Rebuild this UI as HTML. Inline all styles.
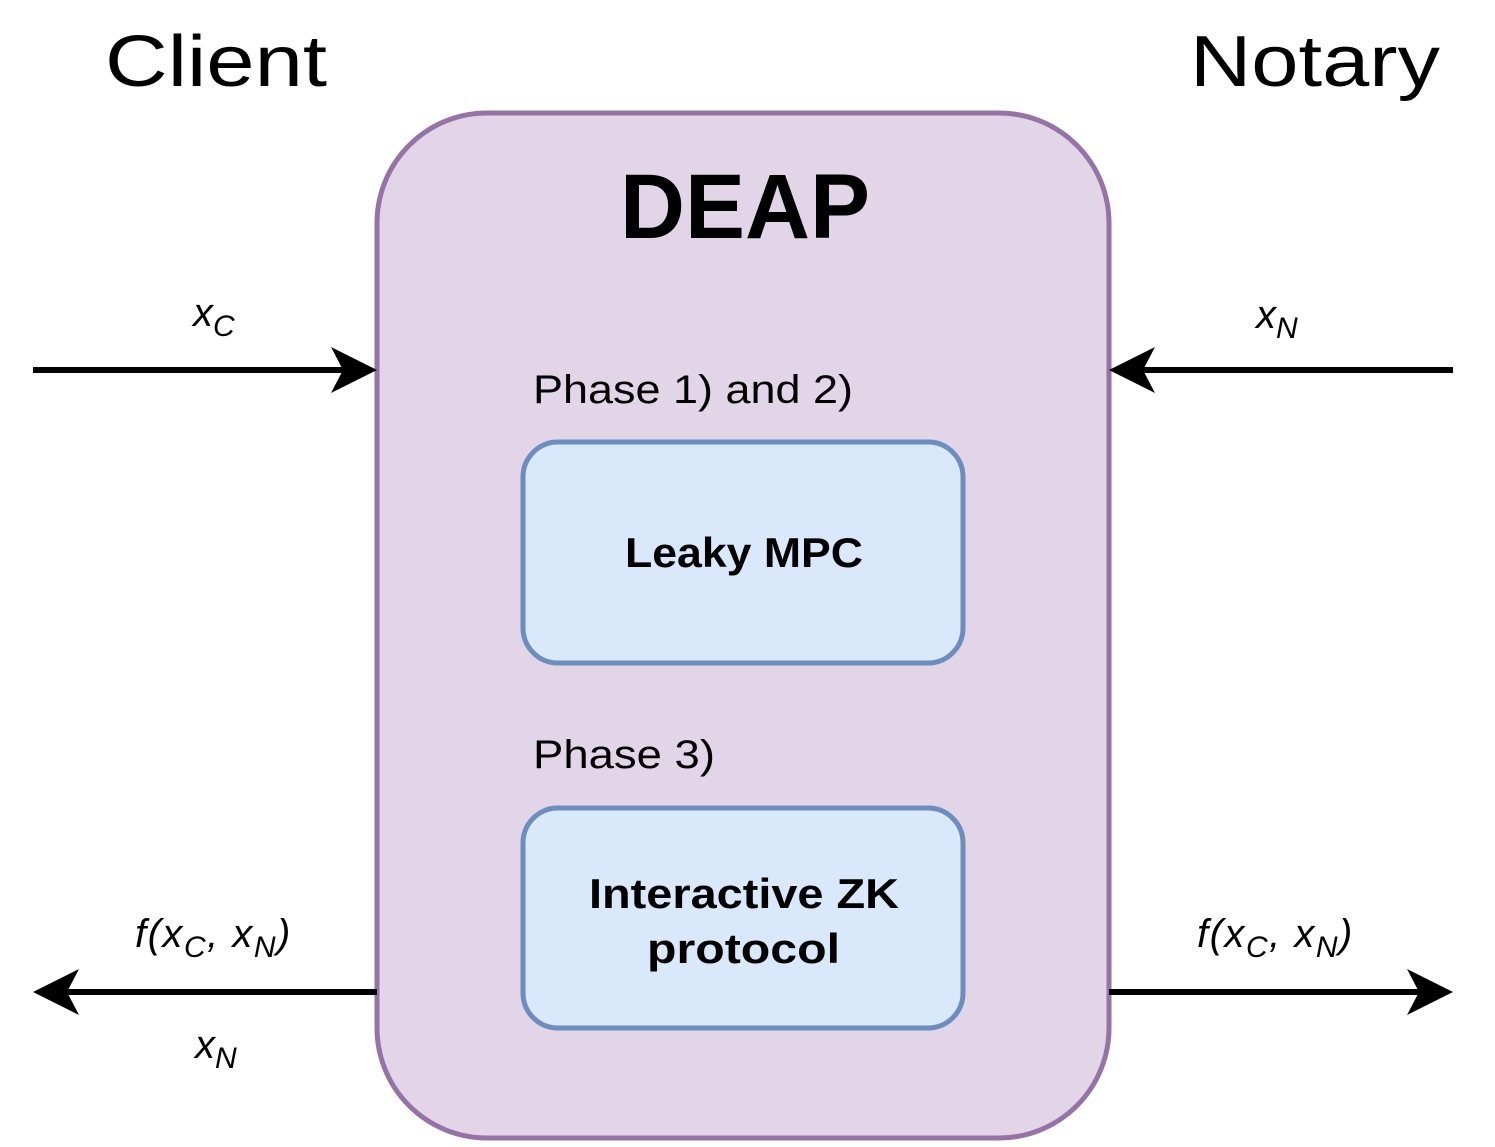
<!DOCTYPE html>
<html><head><meta charset="utf-8"><style>
html,body{margin:0;padding:0;background:#fff;}
svg{display:block;}
text{font-family:"Liberation Sans",sans-serif;fill:#000;}
</style></head><body>
<svg width="1495" height="1147" viewBox="0 0 1495 1147" xmlns="http://www.w3.org/2000/svg">
<rect x="377" y="113" width="732" height="1025" rx="110" ry="110" fill="#e1d5e7" stroke="#9673a6" stroke-width="5"/>
<rect x="523" y="442" width="440" height="221" rx="35" fill="#dae8fc" stroke="#6c8ebf" stroke-width="5"/>
<rect x="523" y="808" width="440" height="220" rx="35" fill="#dae8fc" stroke="#6c8ebf" stroke-width="5"/>
<g stroke="#000" stroke-width="6">
<line x1="33" y1="370" x2="350" y2="370"/>
<line x1="1453" y1="370" x2="1136" y2="370"/>
<line x1="377" y1="992" x2="60" y2="992"/>
<line x1="1109" y1="992" x2="1426" y2="992"/>
</g>
<g fill="#000">
<path d="M377 370 L331 347 L343 370 L331 393 Z"/>
<path d="M1109 370 L1155 347 L1143 370 L1155 393 Z"/>
<path d="M33 992 L79 969 L67 992 L79 1015 Z"/>
<path d="M1453 992 L1407 969 L1419 992 L1407 1015 Z"/>
</g>
<text x="105" y="86" font-size="72" textLength="222" lengthAdjust="spacingAndGlyphs">Client</text>
<text x="1190" y="86" font-size="72" textLength="250" lengthAdjust="spacingAndGlyphs">Notary</text>
<text x="620" y="238" font-size="92" font-weight="bold" textLength="250" lengthAdjust="spacingAndGlyphs">DEAP</text>
<text x="533" y="403" font-size="40" textLength="320" lengthAdjust="spacingAndGlyphs">Phase 1) and 2)</text>
<text x="625" y="567" font-size="42" font-weight="bold" textLength="238" lengthAdjust="spacingAndGlyphs">Leaky MPC</text>
<text x="533" y="768" font-size="40" textLength="182" lengthAdjust="spacingAndGlyphs">Phase 3)</text>
<text x="589" y="908" font-size="42" font-weight="bold" textLength="310" lengthAdjust="spacingAndGlyphs">Interactive ZK</text>
<text x="647" y="963" font-size="42" font-weight="bold" textLength="193" lengthAdjust="spacingAndGlyphs">protocol</text>
<g font-style="italic" font-size="40">
<text x="193" y="326">x<tspan font-size="30" dy="10">C</tspan></text>
<text x="1256" y="328">x<tspan font-size="30" dy="10">N</tspan></text>
<text x="135" y="947" letter-spacing="1.5">f(x<tspan font-size="30" dy="10">C</tspan><tspan dy="-10">, x</tspan><tspan font-size="30" dy="10">N</tspan><tspan dy="-10">)</tspan></text>
<text x="1197" y="947" letter-spacing="1.5">f(x<tspan font-size="30" dy="10">C</tspan><tspan dy="-10">, x</tspan><tspan font-size="30" dy="10">N</tspan><tspan dy="-10">)</tspan></text>
<text x="195" y="1058">x<tspan font-size="30" dy="10">N</tspan></text>
</g>
</svg>
</body></html>
